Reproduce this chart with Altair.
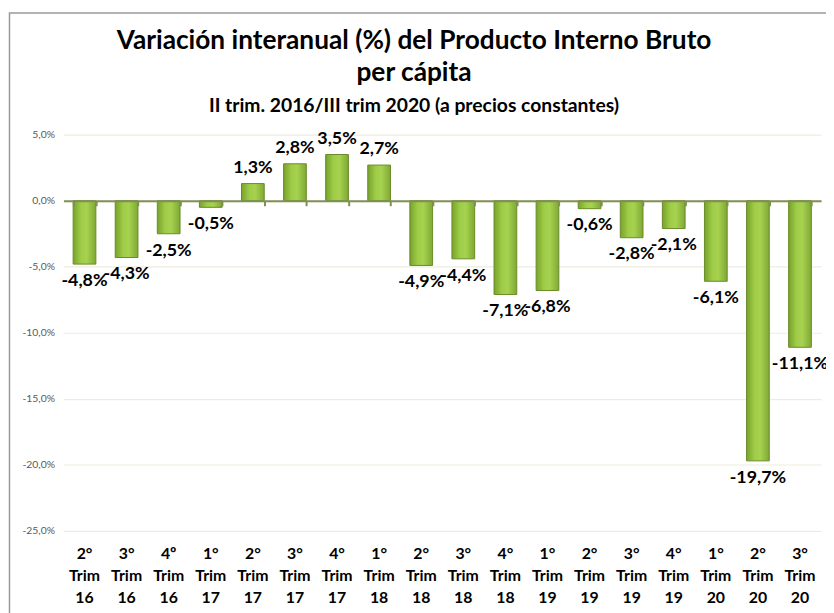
import altair as alt
import pandas as pd

ordinals = ["2°", "3°", "4º", "1°", "2°", "3°", "4°", "1°", "2°", "3°", "4°", "1°", "2°", "3°", "4°", "1°", "2°", "3°"]
years = ["16", "16", "16", "17", "17", "17", "17", "18", "18", "18", "18", "19", "19", "19", "19", "20", "20", "20"]
values = [-4.8, -4.3, -2.5, -0.5, 1.3, 2.8, 3.5, 2.7, -4.9, -4.4, -7.1, -6.8, -0.6, -2.8, -2.1, -6.1, -19.7, -11.1]
y_ticks = [5, 0, -5, -10, -15, -20, -25]
title_lines = ["Variación interanual (%) del Producto Interno Bruto", "per cápita"]
subtitle_text = "II trim. 2016/III trim 2020 (a precios constantes)"

cats = [f"{o}|Trim|{y}" for o, y in zip(ordinals, years)]
df = pd.DataFrame({"cat": cats, "v": values})

FONT = "Lato"
FMT = "replace(replace(format({f}, '.1f'), '.', ','), '\u2212', '-') + '%'"

xscale = alt.Scale(paddingInner=0.46, paddingOuter=0.23)
yscale = alt.Scale(domain=[-25, 5], nice=False)

label_axis = alt.Axis(
    orient="bottom", labelExpr="split(datum.label, '|')", labelAngle=0,
    domain=False, ticks=False, grid=False, title=None,
    labelFont=FONT, labelFontSize=16, labelFontWeight="bold", labelColor="#000000",
    labelPadding=15, labelLineHeight=22,
)
tick_axis = alt.Axis(
    orient="bottom", offset=-333.3, labels=False, grid=False, title=None,
    domain=True, domainColor="#7F8F55", domainWidth=2,
    ticks=True, tickBand="extent", tickSize=5, tickColor="#7F8F55", tickWidth=2,
    zindex=1,
)
y_axis = alt.Axis(
    values=y_ticks, labelExpr=FMT.format(f="datum.value"),
    domain=False, ticks=False, grid=True, gridColor="#EDEDDF", gridWidth=1.2,
    labelFont=FONT, labelFontSize=10.5, labelColor="#595959", labelPadding=9, title=None,
)

grad = alt.Gradient(
    gradient="linear",
    stops=[
        alt.GradientStop(color="#78A22C", offset=0),
        alt.GradientStop(color="#9FCD47", offset=0.35),
        alt.GradientStop(color="#A6D250", offset=0.6),
        alt.GradientStop(color="#7FA833", offset=1),
    ],
    x1=0, x2=1, y1=0, y2=0,
)

base = alt.Chart(df).transform_calculate(lab=FMT.format(f="datum.v"))

bars = base.mark_bar(color=grad, stroke="#6A8B28", strokeWidth=1).encode(
    x=alt.X("cat:N", sort=cats, scale=xscale, axis=label_axis),
    y=alt.Y("v:Q", scale=yscale, axis=y_axis),
    y2=alt.datum(0),
)

neg = base.transform_filter("datum.v < 0").mark_text(
    font=FONT, fontSize=18, fontWeight="bold", color="#000000", baseline="top", dy=8
).encode(
    x=alt.X("cat:N", sort=cats, scale=xscale, axis=tick_axis),
    y=alt.Y("v:Q", scale=yscale, axis=None),
    text="lab:N",
)

pos = base.transform_filter("datum.v >= 0").mark_text(
    font=FONT, fontSize=18, fontWeight="bold", color="#000000", baseline="bottom", dy=-7
).encode(
    x=alt.X("cat:N", sort=cats, scale=xscale, axis=None),
    y=alt.Y("v:Q", scale=yscale, axis=None),
    text="lab:N",
)

frame = alt.Chart(pd.DataFrame({"a": [0]})).mark_rect(
    fillOpacity=0, stroke="#9A9A9A", strokeWidth=1.5
).encode(
    x=alt.value(-54.5), x2=alt.value(900), y=alt.value(-123), y2=alt.value(700)
)

title_df = pd.DataFrame({"t": title_lines + [subtitle_text], "k": [0, 1, 2]})
tbase = alt.Chart(title_df)
t1 = tbase.transform_filter("datum.k == 0").mark_text(
    font=FONT, fontSize=26.5, fontWeight="bold", color="#000000", align="center", baseline="middle"
).encode(x=alt.value(354), y=alt.value(-95), text="t:N")
t2 = tbase.transform_filter("datum.k == 1").mark_text(
    font=FONT, fontSize=26.5, fontWeight="bold", color="#000000", align="center", baseline="middle"
).encode(x=alt.value(354), y=alt.value(-62), text="t:N")
t3 = tbase.transform_filter("datum.k == 2").mark_text(
    font=FONT, fontSize=19.5, fontWeight="bold", color="#000000", align="center", baseline="middle"
).encode(x=alt.value(354), y=alt.value(-29), text="t:N")

chart = alt.layer(frame, bars, neg, pos, t1, t2, t3).resolve_axis(
    x="independent", y="independent"
).properties(
    width=765,
    height=400,
    padding={"left": 56, "top": 125, "right": 5, "bottom": 80},
    autosize=alt.AutoSizeParams(type="none"),
).configure_view(stroke=None)

chart.save("out.html", embed_options={"renderer": "svg", "actions": False})
